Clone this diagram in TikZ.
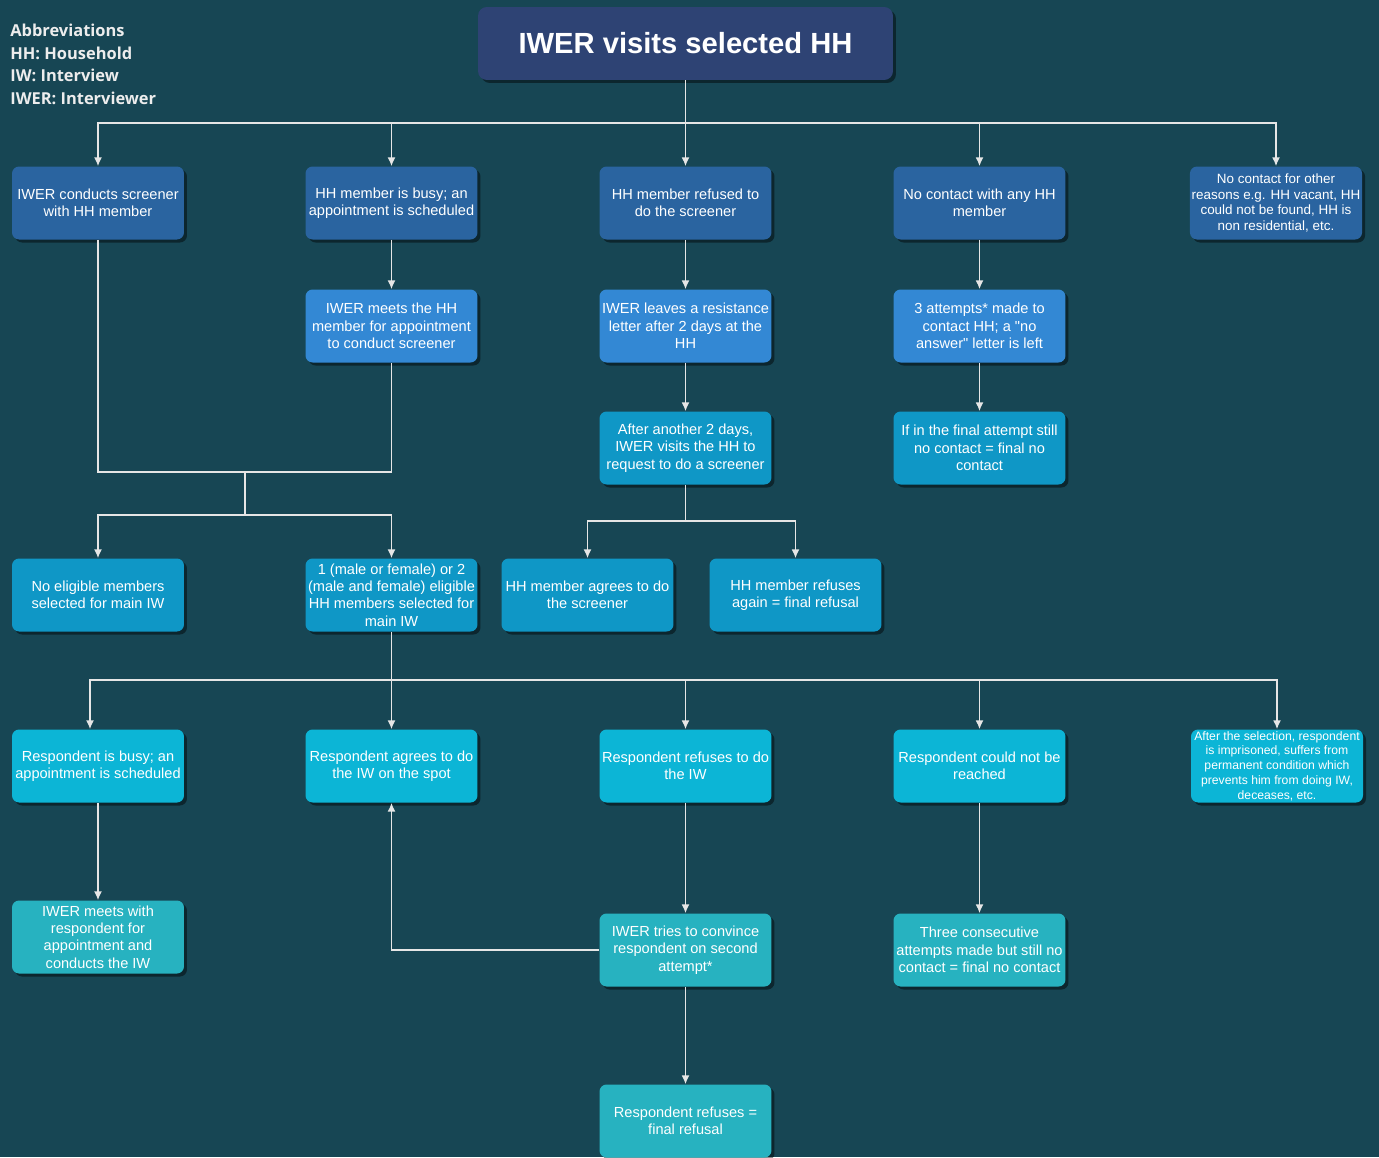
\documentclass[tikz,border=0pt]{standalone}
\usepackage{fontspec}
\setmainfont{Liberation Sans}[Ligatures=TeXOff]
\newfontfamily\abbrfont{Open Sans}
\usepackage{tikz}
\usetikzlibrary{arrows.meta}
\usetikzlibrary{shadows}
\usepackage{xcolor}
\definecolor{bgteal}{HTML}{174654}
\definecolor{titleblue}{HTML}{2E4374}
\definecolor{rowone}{HTML}{2A64A0}
\definecolor{rowtwo}{HTML}{3388D4}
\definecolor{rowthree}{HTML}{0F97C6}
\definecolor{rowfive}{HTML}{0CB5D6}
\definecolor{rowsix}{HTML}{27B2C0}
\definecolor{linegray}{HTML}{E6E6E6}
\newcommand{\smalltxt}{\fontsize{7.65}{9.07}\selectfont}
\newcommand{\tinytxt}{\fontsize{6.94}{8.4}\selectfont}

\begin{document}
\begin{tikzpicture}[x=0.02cm,y=-0.02cm]
\tikzstyle{box}=[rounded corners=4pt, minimum width=3.44cm, minimum height=1.46cm, inner sep=1pt,
  align=center, text=white, font=\fontsize{8.3}{9.9}\selectfont,
  drop shadow={shadow xshift=0.06cm,shadow yshift=-0.06cm,opacity=0.45,fill=black}]
\tikzstyle{wire}=[draw=linegray, line width=0.8pt]
\tikzstyle{arr}=[wire, arrows={-Latex[width=4.5pt,length=5pt]}]
\fill[bgteal] (0,0) rectangle (1379,1157);
\useasboundingbox (0,0) rectangle (1379,1157);
\node[anchor=north west, inner sep=0pt, align=left, text=white!93!black,
  font=\abbrfont\bfseries\fontsize{9.35}{12.8}\selectfont] (abbr) at (10,24)
  {Abbreviations\\HH: Household\\IW: Interview\\IWER: Interviewer};
\node[box, fill=titleblue, minimum width=8.3cm, rounded corners=5pt,
  font=\bfseries\fontsize{16.6}{20}\selectfont] (t) at (685.5,43.5) {IWER visits selected HH};

\node[box, fill=rowone] (a1) at (98,203) {IWER conducts screener\\with HH member};
\node[box, fill=rowone] (a2) at (391.5,203) {HH member is busy; an\\appointment is scheduled};
\node[box, fill=rowone] (a3) at (685.5,203) {HH member refused to\\do the screener};
\node[box, fill=rowone] (a4) at (979.5,203) {No contact with any HH\\member};
\node[box, fill=rowone, font=\smalltxt] (a5) at (1276,203) {No contact for other\\reasons e.g. HH vacant, HH\\could not be found, HH is\\non residential, etc.};

\node[box, fill=rowtwo] (b2) at (391.5,326) {IWER meets the HH\\member for appointment\\to conduct screener};
\node[box, fill=rowtwo] (b3) at (685.5,326) {IWER leaves a resistance\\letter after 2 days at the\\HH};
\node[box, fill=rowtwo] (b4) at (979.5,326) {3 attempts* made to\\contact HH; a "no\\answer" letter is left};

\node[box, fill=rowthree] (c3) at (685.5,448) {After another 2 days,\\IWER visits the HH to\\request to do a screener};
\node[box, fill=rowthree] (c4) at (979.5,448) {If in the final attempt still\\no contact = final no\\contact};

\node[box, fill=rowthree] (d1) at (98,595) {No eligible members\\selected for main IW};
\node[box, fill=rowthree] (d2) at (391.5,595) {1 (male or female) or 2\\(male and female) eligible\\HH members selected for\\main IW};
\node[box, fill=rowthree] (d3) at (587.5,595) {HH member agrees to do\\the screener};
\node[box, fill=rowthree] (d4) at (795.5,595) {HH member refuses\\again = final refusal};

\node[box, fill=rowfive] (e1) at (98,766) {Respondent is busy; an\\appointment is scheduled};
\node[box, fill=rowfive] (e2) at (391.5,766) {Respondent agrees to do\\the IW on the spot};
\node[box, fill=rowfive] (e3) at (685.5,766) {Respondent refuses to do\\the IW};
\node[box, fill=rowfive] (e4) at (979.5,766) {Respondent could not be\\reached};
\node[box, fill=rowfive, font=\tinytxt] (e5) at (1277,766) {After the selection, respondent\\is imprisoned, suffers from\\permanent condition which\\prevents him from doing IW,\\deceases, etc.};

\node[box, fill=rowsix] (f1) at (98,937) {IWER meets with\\respondent for\\appointment and\\conducts the IW};
\node[box, fill=rowsix] (f3) at (685.5,950) {IWER tries to convince\\respondent on second\\attempt*};
\node[box, fill=rowsix] (f4) at (979.5,950) {Three consecutive\\attempts made but still no\\contact = final no contact};
\node[box, fill=rowsix] (g3) at (685.5,1121) {Respondent refuses =\\final refusal};

\coordinate (j1) at (685.5,123);
\coordinate (j2) at (245,472);
\coordinate (j3) at (245,515);
\coordinate (j4) at (685.5,521);
\coordinate (j5) at (391.5,680);

\draw[arr] (t) -- (a3);
\draw[arr] (j1) -| (a1);
\draw[arr] (j1) -| (a2);
\draw[arr] (j1) -| (a4);
\draw[arr] (j1) -| (a5);
\draw[arr] (a2) -- (b2);
\draw[arr] (a3) -- (b3);
\draw[arr] (b3) -- (c3);
\draw[arr] (a4) -- (b4);
\draw[arr] (b4) -- (c4);
\draw[wire] (a1) |- (j2) -| (b2);
\draw[wire] (j2) -- (j3);
\draw[arr] (j3) -| (d1);
\draw[arr] (j3) -| (d2);
\draw[wire] (c3) -- (j4);
\draw[arr] (j4) -| (d3);
\draw[arr] (j4) -| (d4);
\draw[arr] (d2) -- (e2);
\draw[arr] (j5) -| ([xshift=-0.16cm]e1.north);
\draw[arr] (j5) -| (e3);
\draw[arr] (j5) -| (e4);
\draw[arr] (j5) -| (e5);
\draw[arr] (e1) -- (f1);
\draw[arr] (e3) -- (f3);
\draw[arr] (e4) -- (f4);
\draw[arr] (f3.west) -| (e2);
\draw[arr] (f3) -- (g3);
\end{tikzpicture}
\end{document}
